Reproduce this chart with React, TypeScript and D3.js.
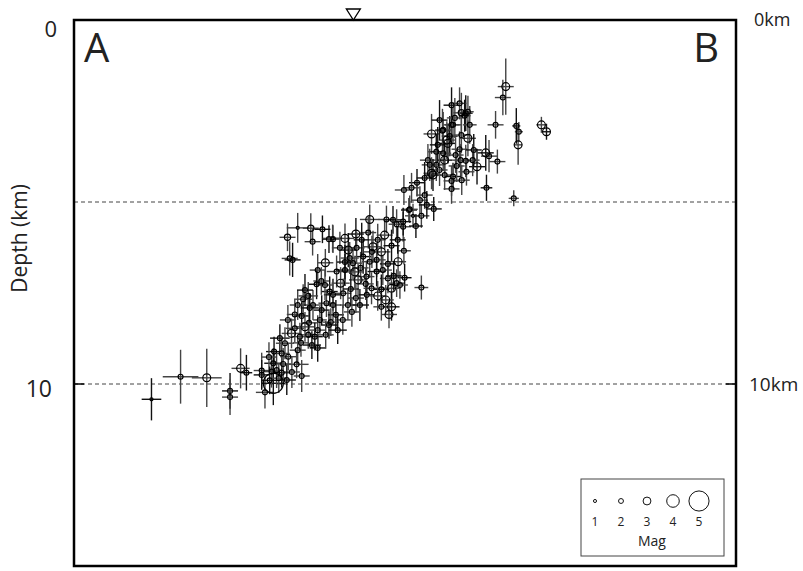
import React from "react";
import * as d3 from "d3";

// distance along profile A-B (km)
const dist = [
  2.13, 2.93, 3.65, 4.29, 4.29, 4.58, 4.74, 5.16, 5.25, 5.48, 5.43, 5.57,
  5.71, 6.15, 6.51, 6.83, 5.87, 6.56, 7.01, 7.12, 5.93, 6.01, 6.91, 6.80,
  6.67, 6.44, 6.30, 7.03, 6.94, 6.07, 6.26, 6.46, 6.76, 7.01, 6.07, 5.98,
  5.66, 6.21, 6.44, 6.62, 6.24, 5.80, 5.50, 5.71, 5.89, 5.48, 5.75, 6.12,
  9.21, 9.32, 9.55, 9.89, 8.13, 8.59, 8.77, 8.87, 9.05, 9.40, 7.11, 7.45,
  7.75, 8.09, 8.54, 7.54, 8.22, 8.45, 8.73, 9.07, 7.67, 7.95, 8.13, 8.32,
  8.63, 8.91, 7.22, 7.45, 7.81, 8.04, 8.32, 8.63, 8.87, 9.09, 9.55, 8.18,
  8.45, 8.73, 8.96, 7.12, 7.40, 8.45, 8.73, 8.66, 7.12, 7.20, 7.06, 10.65,
  10.77, 10.38, 11.59, 12.16, 9.83, 10.13, 10.33, 10.65, 10.83, 10.28, 10.60, 12.21,
  9.96, 10.15, 9.73, 10.19, 10.63, 10.77, 11.32, 11.41, 11.64, 11.08, 9.96, 9.83,
  9.87, 10.19, 10.79, 10.42, 10.38, 10.38, 9.43, 9.28, 9.07, 11.34, 12.09, 9.23,
  9.05, 11.87, 11.79, 10.38, 10.60, 10.83, 10.74, 12.23, 12.85, 12.99, 10.15, 10.42,
  7.61, 7.75, 7.88, 8.05, 7.53, 7.33, 6.81, 6.57, 6.35, 6.70, 7.77, 8.35,
  8.90, 10.05, 10.52, 10.99, 9.64, 5.36, 5.16,
  7.31, 7.58, 7.91, 8.19, 8.49, 8.79, 8.02, 7.72, 7.45, 8.35, 8.57, 7.86,
  7.64, 7.39, 7.25, 6.92, 6.70, 6.54, 6.15, 5.99, 5.85, 5.63, 6.26, 5.38,
  10.47, 10.25, 10.00, 10.49, 10.88, 10.05, 9.78, 10.66, 9.64, 10.96, 9.51, 9.70,
  6.70, 6.90, 6.48, 6.15, 5.88, 6.35,
];

// hypocentral depth (km)
const depth = [
  10.42, 9.80, 9.83, 10.19, 10.36, 9.57, 9.69, 9.63, 10.23, 9.98, 9.66, 9.62,
  9.69, 5.71, 5.72, 5.75, 5.97, 6.09, 6.02, 6.02, 6.55, 6.59, 6.67, 7.17,
  7.26, 7.58, 7.67, 7.46, 7.78, 8.09, 8.13, 8.32, 8.24, 8.38, 8.47, 8.61,
  8.74, 8.70, 8.65, 8.70, 8.87, 8.88, 9.11, 9.16, 9.25, 9.43, 9.45, 9.46,
  5.22, 5.38, 5.38, 5.19, 5.48, 5.48, 5.49, 5.61, 5.68, 5.66, 6.00, 6.00,
  5.88, 5.84, 5.91, 6.32, 6.23, 6.37, 6.20, 6.34, 6.68, 6.50, 6.64, 6.59,
  6.70, 6.64, 6.91, 6.87, 7.14, 7.05, 6.91, 7.10, 7.23, 7.08, 7.35, 7.37,
  7.40, 7.37, 7.28, 7.55, 7.51, 7.88, 7.88, 8.09, 7.83, 8.10, 8.30, 2.55,
  2.56, 2.88, 2.88, 2.91, 3.13, 3.04, 3.19, 3.16, 3.25, 3.39, 3.55, 3.43,
  3.62, 3.66, 3.85, 3.85, 3.85, 3.87, 3.65, 3.74, 3.89, 4.03, 3.98, 4.21,
  4.26, 4.26, 4.17, 4.30, 4.42, 4.64, 4.47, 4.61, 4.67, 4.61, 4.90, 5.20,
  5.54, 1.83, 2.13, 2.34, 2.29, 2.52, 2.63, 3.07, 2.88, 3.07, 3.02, 2.88,
  7.39, 7.64, 6.81, 7.55, 7.83, 7.23, 7.97, 7.83, 8.43, 9.01, 6.26, 6.04,
  6.04, 4.12, 4.01, 3.57, 4.81, 9.26, 9.75,
  6.26, 6.54, 6.04, 6.37, 6.87, 7.03, 7.25, 6.92, 6.65, 7.58, 7.69, 7.83,
  8.02, 8.24, 8.52, 8.65, 8.52, 8.93, 9.07, 9.67, 9.89, 9.84, 9.78, 9.90,
  2.69, 3.30, 3.43, 3.71, 2.88, 2.75, 3.98, 4.40, 4.34, 3.85, 4.95, 5.08,
  6.87, 7.28, 7.91, 7.83, 8.24, 7.42,
];

// magnitude
const mag = [
  1, 2, 3, 2, 2, 3, 2, 2, 2, 5, 2, 2,
  2, 1, 2.5, 2, 2.5, 2, 2, 2, 2, 2, 3, 2,
  2, 2, 2, 2, 2, 2, 2, 2, 2, 2, 2, 3,
  2, 2, 2, 2, 2, 2, 2, 2, 2, 2, 2, 2,
  2, 1, 2, 2, 3, 2, 2, 2, 2, 2, 1, 3,
  3, 2, 3, 3, 3, 3, 2, 2, 2, 2, 2, 2,
  2, 3, 2, 2, 3, 2, 2, 2, 2, 2, 2, 2,
  2, 3, 2, 2, 2, 2, 3, 3, 2, 2, 2, 2.5,
  2, 2, 2, 2, 3, 2, 2, 2, 3, 3, 2, 3,
  2, 2, 2, 3, 2, 2, 3, 2, 2, 3, 2, 3,
  3, 2, 2, 2, 2, 2, 2, 2, 2, 2, 2, 2,
  2, 3, 2, 2, 2, 2, 2, 2, 3, 3, 2, 2,
  2, 2, 2, 2, 2, 3, 2, 2, 3, 2, 2, 2,
  2, 2, 2, 2, 2, 2, 2,
  2, 2, 2, 2, 2, 2, 2, 3, 2, 3, 3, 2,
  2, 2, 2, 2, 2, 2, 2, 2, 2, 2, 2, 2,
  2, 3, 2, 2, 2, 2, 2, 2, 2, 2, 2, 2,
  2, 2, 2, 2, 2, 2,
];

// horizontal error (km, half-length)
const herr = [
  0.27, 0.49, 0.41, 0.22, 0.22, 0.25, 0.16, 0.22, 0.25, 0.33, 0.22, 0.19,
  0.22, 0.30, 0.22, 0.22, 0.22, 0.22, 0.19, 0.19, 0.22, 0.22, 0.22, 0.22,
  0.22, 0.27, 0.25, 0.22, 0.22, 0.22, 0.22, 0.22, 0.19, 0.22, 0.25, 0.27,
  0.27, 0.22, 0.22, 0.22, 0.22, 0.25, 0.22, 0.22, 0.22, 0.25, 0.22, 0.33,
  0.22, 0.22, 0.22, 0.22, 0.27, 0.22, 0.22, 0.22, 0.22, 0.19, 0.27, 0.25,
  0.22, 0.22, 0.22, 0.22, 0.25, 0.25, 0.22, 0.19, 0.25, 0.22, 0.22, 0.25,
  0.22, 0.22, 0.27, 0.25, 0.25, 0.22, 0.25, 0.22, 0.22, 0.19, 0.19, 0.22,
  0.22, 0.25, 0.22, 0.25, 0.22, 0.22, 0.22, 0.22, 0.22, 0.22, 0.22, 0.22,
  0.19, 0.22, 0.22, 0.11, 0.22, 0.22, 0.22, 0.22, 0.22, 0.22, 0.22, 0.11,
  0.22, 0.22, 0.22, 0.22, 0.22, 0.22, 0.22, 0.22, 0.22, 0.22, 0.22, 0.22,
  0.22, 0.22, 0.22, 0.22, 0.22, 0.22, 0.22, 0.22, 0.25, 0.16, 0.14, 0.22,
  0.22, 0.22, 0.22, 0.22, 0.19, 0.16, 0.16, 0.11, 0.14, 0.11, 0.22, 0.22,
  0.22, 0.22, 0.22, 0.22, 0.22, 0.25, 0.22, 0.22, 0.25, 0.22, 0.22, 0.22,
  0.22, 0.22, 0.22, 0.22, 0.22, 0.22, 0.22,
  0.22, 0.25, 0.22, 0.22, 0.25, 0.22, 0.22, 0.25, 0.22, 0.22, 0.22, 0.25,
  0.22, 0.22, 0.25, 0.22, 0.22, 0.25, 0.22, 0.22, 0.25, 0.22, 0.22, 0.22,
  0.22, 0.22, 0.22, 0.22, 0.19, 0.22, 0.22, 0.22, 0.22, 0.19, 0.22, 0.22,
  0.22, 0.22, 0.25, 0.22, 0.22, 0.22,
];

// vertical (depth) error (km, half-length)
const zerr = [
  0.58, 0.74, 0.80, 0.49, 0.49, 0.55, 0.49, 0.49, 0.44, 0.60, 0.44, 0.49,
  0.41, 0.41, 0.41, 0.38, 0.38, 0.38, 0.38, 0.38, 0.47, 0.47, 0.38, 0.38,
  0.41, 0.38, 0.41, 0.41, 0.38, 0.41, 0.38, 0.41, 0.38, 0.38, 0.38, 0.41,
  0.38, 0.38, 0.38, 0.38, 0.38, 0.44, 0.41, 0.41, 0.38, 0.41, 0.44, 0.38,
  0.33, 0.33, 0.33, 0.33, 0.41, 0.38, 0.38, 0.41, 0.41, 0.33, 0.38, 0.41,
  0.44, 0.44, 0.41, 0.47, 0.44, 0.44, 0.44, 0.38, 0.44, 0.47, 0.44, 0.47,
  0.41, 0.44, 0.44, 0.44, 0.44, 0.44, 0.41, 0.41, 0.38, 0.38, 0.33, 0.44,
  0.41, 0.44, 0.38, 0.44, 0.41, 0.38, 0.38, 0.38, 0.41, 0.41, 0.38, 0.55,
  0.49, 0.55, 0.38, 0.49, 0.55, 0.60, 0.55, 0.49, 0.49, 0.55, 0.49, 0.55,
  0.49, 0.49, 0.44, 0.49, 0.44, 0.44, 0.49, 0.44, 0.33, 0.49, 0.44, 0.44,
  0.44, 0.41, 0.38, 0.38, 0.41, 0.41, 0.38, 0.41, 0.41, 0.36, 0.22, 0.38,
  0.38, 0.77, 0.49, 0.49, 0.44, 0.44, 0.44, 0.27, 0.22, 0.22, 0.49, 0.49,
  0.44, 0.41, 0.44, 0.38, 0.41, 0.44, 0.41, 0.41, 0.41, 0.38, 0.44, 0.44,
  0.38, 0.44, 0.44, 0.44, 0.38, 0.41, 0.41,
  0.44, 0.44, 0.47, 0.44, 0.41, 0.41, 0.44, 0.44, 0.47, 0.41, 0.41, 0.44,
  0.41, 0.41, 0.38, 0.38, 0.41, 0.38, 0.41, 0.44, 0.41, 0.41, 0.44, 0.38,
  0.55, 0.52, 0.49, 0.49, 0.52, 0.55, 0.44, 0.41, 0.44, 0.44, 0.38, 0.38,
  0.44, 0.41, 0.41, 0.41, 0.41, 0.44,
];

const depthTicks = [0, 10];
const refLines = [5, 10];
const legendMags = [1, 2, 3, 4, 5];
const stationDist = 7.68;

const W = 803;
const H = 571;
const M = { left: 74, right: 736, top: 20, bottom: 566 };

export default function App() {
  const x = d3.scaleLinear().domain([0, 18.2]).range([M.left, M.right]);
  const y = d3.scaleLinear().domain([0, 15]).range([M.top, M.bottom]);
  const r = (m: number) => Math.pow(1.6, m) * 0.96;
  const lx = d3.scalePoint<number>().domain(legendMags).range([595, 699]);
  const font = "'Open Sans', 'Noto Sans', sans-serif";

  const idx = d3.range(dist.length);
  const sx = x(stationDist);

  return (
    <svg width={W} height={H} style={{ position: "absolute", left: 0, top: 0, background: "#fff" }}>
      {refLines.map((d) => (
        <line key={"r" + d} x1={M.left} x2={M.right} y1={y(d)} y2={y(d)}
          stroke="#444" strokeWidth={1} strokeDasharray="4,3" />
      ))}
      <g strokeWidth={1.4}>
        {idx.map((i) => (
          <g key={"e" + i} stroke={i % 3 === 0 ? "#111" : "#444"}>
            <line x1={x(dist[i] - herr[i])} x2={x(dist[i] + herr[i])} y1={y(depth[i])} y2={y(depth[i])} />
            <line x1={x(dist[i])} x2={x(dist[i])} y1={y(depth[i] - zerr[i])} y2={y(depth[i] + zerr[i])} />
          </g>
        ))}
      </g>
      <g fill="none" stroke="#000" strokeWidth={1.2}>
        {idx.map((i) => (
          <circle key={"c" + i} cx={x(dist[i])} cy={y(depth[i])} r={r(mag[i])} />
        ))}
      </g>
      <rect x={M.left} y={M.top} width={M.right - M.left} height={M.bottom - M.top}
        fill="none" stroke="#000" strokeWidth={2.5} />
      {depthTicks.map((d) => (
        <g key={"t" + d} stroke="#000" strokeWidth={1.5}>
          <line x1={M.left} x2={M.left + 10} y1={y(d)} y2={y(d)} />
          <line x1={M.right - 10} x2={M.right} y1={y(d)} y2={y(d)} />
        </g>
      ))}
      <path d={`M${sx - 7},${M.top - 11} L${sx + 7},${M.top - 11} L${sx},${M.top} Z`}
        fill="#fff" stroke="#000" strokeWidth={1.3} />
      <text x={57} y={y(0) + 17} textAnchor="end" fontFamily={font} fontSize={22} fill="#222">0</text>
      <text x={52} y={y(10) + 13} textAnchor="end" fontFamily={font} fontSize={23} fill="#222">10</text>
      <text x={754} y={26} fontFamily={font} fontSize={18} fill="#222">0km</text>
      <text x={749} y={391} fontFamily={font} fontSize={19} fill="#222">10km</text>
      <text transform={`translate(27,${y(6)}) rotate(-90)`} textAnchor="middle"
        fontFamily={font} fontSize={21} fill="#222">Depth (km)</text>
      <text x={84} y={62} fontFamily={font} fontSize={40} fill="#222">A</text>
      <text x={719} y={62} textAnchor="end" fontFamily={font} fontSize={40} fill="#222">B</text>
      <rect x={581} y={479} width={143} height={77} fill="#fff" stroke="#444" strokeWidth={1} />
      {legendMags.map((m) => (
        <g key={"l" + m}>
          <circle cx={lx(m)} cy={501} r={r(m)} fill="none" stroke="#111" strokeWidth={1} />
          <text x={lx(m)} y={526} textAnchor="middle" fontFamily={font} fontSize={12} fill="#222">{m}</text>
        </g>
      ))}
      <text x={652} y={546} textAnchor="middle" fontFamily={font} fontSize={14} fill="#222">Mag</text>
    </svg>
  );
}
